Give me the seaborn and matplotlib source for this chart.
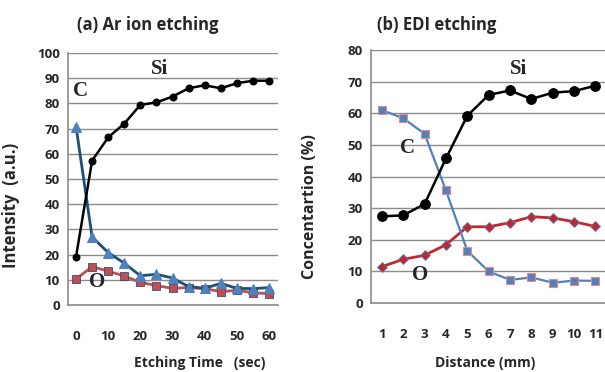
import numpy as np
import pandas as pd
import seaborn as sns
import matplotlib.pyplot as plt

# (a) Ar ion etching
time_sec = [0, 5, 10, 15, 20, 25, 30, 35, 40, 45, 50, 55, 60]
si_a = [19.2, 57.3, 66.5, 72, 79.4, 80.4, 82.7, 86, 87.2, 86, 88, 89, 89]
c_a = [70.8, 27, 20.8, 16.6, 11.6, 12.2, 10.7, 7.3, 6.6, 8.6, 6.6, 6.5, 6.9]
o_a = [10.3, 15.2, 13.4, 11.5, 9, 7.7, 6.6, 6.9, 6.5, 5.3, 5.8, 4.9, 4.5]

# (b) EDI etching
dist_mm = [1, 2, 3, 4, 5, 6, 7, 8, 9, 10, 11]
si_b = [27.4, 27.7, 31.3, 45.7, 59.2, 65.8, 67.2, 64.5, 66.5, 67.0, 68.7]
c_b = [61, 58.4, 53.5, 35.6, 16.5, 10, 7.3, 8.1, 6.4, 7.1, 7]
o_b = [11.5, 13.8, 15.1, 18.4, 24.1, 24.1, 25.4, 27.3, 26.9, 25.7, 24.2]

sns.set_theme(style="white")
plt.rcParams['font.family'] = ['Open Sans', 'DejaVu Sans']

fig = plt.figure(figsize=(6.05, 3.72), dpi=100)
ax1 = fig.add_axes([68/605, 1-305/372, 210/605, 252/372])
ax2 = fig.add_axes([371/605, 1-303/372, 234/605, 253/372])

df_a = pd.DataFrame({'t': time_sec, 'Si': si_a, 'C': c_a, 'O': o_a})
df_b = pd.DataFrame({'d': dist_mm, 'Si': si_b, 'C': c_b, 'O': o_b})

# panel a
sns.lineplot(data=df_a, x='t', y='O', ax=ax1, color='#C0504D', lw=2,
             marker='s', markersize=5.5, markerfacecolor='#C0504D',
             markeredgecolor='#2F4F8F', markeredgewidth=0.6)
sns.lineplot(data=df_a, x='t', y='C', ax=ax1, color='#1F4E79', lw=2,
             marker='^', markersize=7, markerfacecolor='#4F81BD',
             markeredgecolor='#4F81BD')
sns.lineplot(data=df_a, x='t', y='Si', ax=ax1, color='black', lw=1.8,
             marker='o', markersize=5, markerfacecolor='black',
             markeredgecolor='black')

# panel b
sns.lineplot(data=df_b, x='d', y='O', ax=ax2, color='#C0282D', lw=2,
             marker='D', markersize=5, markerfacecolor='#C0282D',
             markeredgecolor='#4F81BD', markeredgewidth=0.6)
sns.lineplot(data=df_b, x='d', y='C', ax=ax2, color='#4F81BD', lw=1.6,
             marker='s', markersize=6, markerfacecolor='#4F81BD',
             markeredgecolor='#E6878A', markeredgewidth=0.8)
sns.lineplot(data=df_b, x='d', y='Si', ax=ax2, color='black', lw=1.8,
             marker='o', markersize=7, markerfacecolor='black',
             markeredgecolor='black')

ax1.set_xlim(-2.5, 62.8)
ax1.set_ylim(0, 100)
ax1.set_xticks(range(0, 61, 10))
ax1.set_yticks(range(0, 101, 10))
ax2.set_xlim(0.49, 11.45)
ax2.set_ylim(0, 80)
ax2.set_xticks(dist_mm)
ax2.set_yticks(range(0, 81, 10))

for ax in (ax1, ax2):
    ax.grid(axis='y', color='#8c8c8c', lw=1)
    ax.set_axisbelow(True)
    for s in ('top', 'right'):
        ax.spines[s].set_visible(False)
    for s in ('left', 'bottom'):
        ax.spines[s].set_color('#8c8c8c')
        ax.spines[s].set_linewidth(1.2)
    ax.tick_params(axis='x', length=0, pad=18, labelsize=9.5)
    ax.tick_params(axis='y', length=0, pad=6, labelsize=9.5)
    for lab in ax.get_xticklabels() + ax.get_yticklabels():
        lab.set_fontweight('bold')

ax1.set_xlabel('Etching Time   (sec)', fontsize=10, fontweight='bold')
ax1.xaxis.set_label_coords((200-68)/210, -(356-305)/252)
ax1.set_ylabel('Intensity  (a.u.)', fontsize=12, fontweight='bold')
ax1.yaxis.set_label_coords(-(68-20)/210, (305-205)/252)

ax2.set_xlabel('Distance (mm)', fontsize=10, fontweight='bold')
ax2.xaxis.set_label_coords((485-371)/234, -(356-303)/253)
ax2.set_ylabel('Concentartion (%)', fontsize=11.5, fontweight='bold')
ax2.yaxis.set_label_coords(-(371-318)/234, (303-207)/253)

fig.text(148/605, 1-25/372, '(a) Ar ion etching', ha='center', va='center',
         fontsize=12, fontweight='bold')
fig.text(437/605, 1-25/372, '(b) EDI etching', ha='center', va='center',
         fontsize=12, fontweight='bold')

serif = dict(family='Liberation Serif', fontweight='bold', fontsize=15,
             ha='center', va='center')
ax1.text(26, 93.5, 'Si', **serif)
ax1.text(1.5, 85, 'C', **serif)
ax1.text(6.5, 9, 'O', **serif)
ax2.text(7.4, 74, 'Si', **serif)
ax2.text(2.2, 49, 'C', **serif)
ax2.text(2.8, 9, 'O', **serif)

fig.savefig('out.png', dpi=100)
